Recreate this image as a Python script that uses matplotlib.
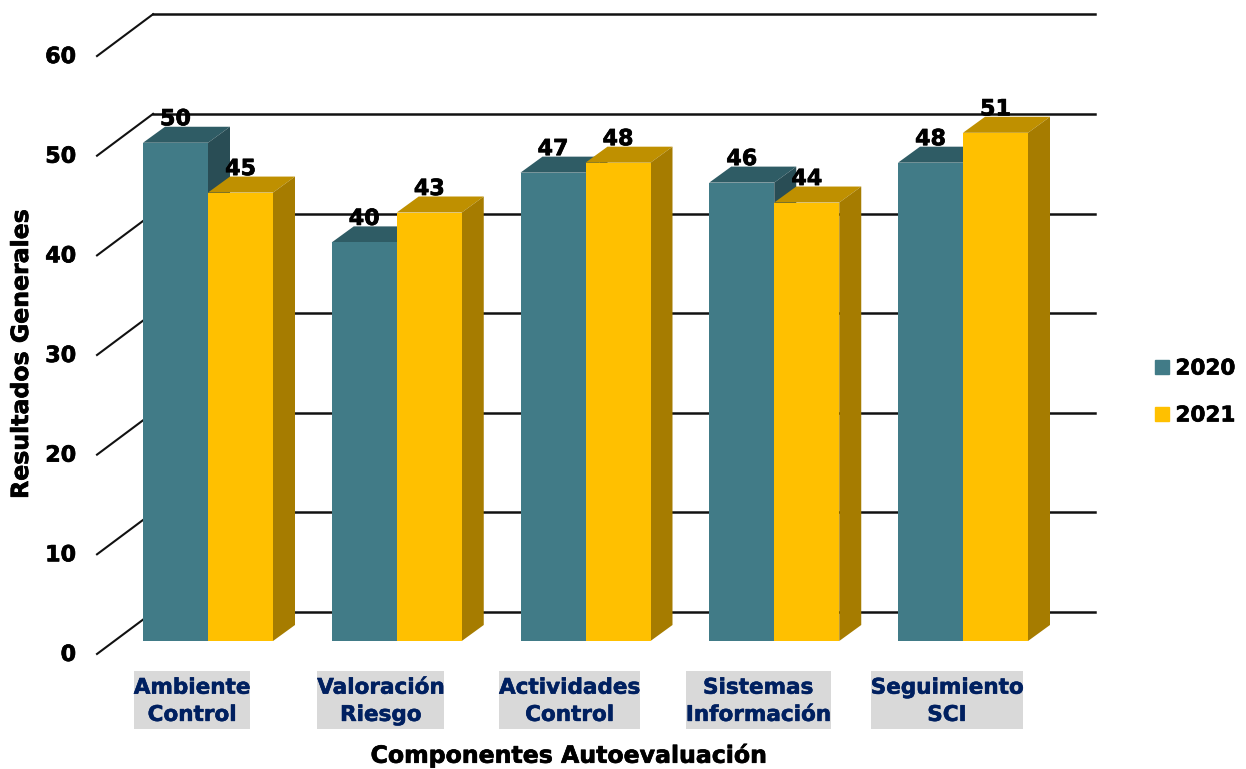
import matplotlib
matplotlib.use('Agg')
import matplotlib.pyplot as plt
import matplotlib.patheffects as pe
from matplotlib.patches import Patch, Rectangle
from matplotlib.transforms import IdentityTransform

categories = ['Ambiente\nControl', 'Valoración\nRiesgo', 'Actividades\nControl',
              'Sistemas\nInformación', 'Seguimiento\nSCI']
series_names = ['2020', '2021']
values_2020 = [50, 40, 47, 46, 48]
values_2021 = [45, 43, 48, 44, 51]
y_ticks = [0, 10, 20, 30, 40, 50, 60]

front_colors = ['#417B87', '#FFC000']
top_colors = ['#2F5C65', '#BF9000']
side_colors = ['#294D55', '#A67C00']

W, H = 1246, 769
PX_X = 188.75   # pixels per category
PX_Y = 9.965    # pixels per value unit
BAR_W = 65 / PX_X
DX = 22 / PX_X  # bar depth
DY = 16 / PX_Y
WALL_X = (-0.291, 4.70)
WALL_DY = 2.9
AXIS_X = -0.588
AXIS_DY = -1.3

plt.rcParams['font.family'] = ['DejaVu Sans']
plt.rcParams['font.weight'] = 'bold'

# the original font is heavier than DejaVu Bold
heavy = [pe.withStroke(linewidth=0.5, foreground='black')]
heavy_navy = [pe.withStroke(linewidth=0.4, foreground='#002060')]

fig = plt.figure(figsize=(W / 100, H / 100), dpi=100)
ax = fig.add_axes([0, 0, 1, 1])
ax.set_xlim(-208 / PX_X, (W - 208) / PX_X)
ax.set_ylim(-(H - 641) / PX_Y, 641 / PX_Y)
ax.axis('off')

# back wall lines and the slanted lines to the front axis
for t in y_ticks:
    ax.plot(WALL_X, [t + WALL_DY] * 2, color='#111111', lw=1.8, zorder=1)
    ax.plot([AXIS_X, WALL_X[0]], [t + AXIS_DY, t + WALL_DY], color='#111111', lw=1.5, zorder=1)
    ax.text(AXIS_X - 0.11, t + AXIS_DY - 0.1, str(t), ha='right', va='center', fontsize=16,
            path_effects=heavy, zorder=5)


def draw_bar(left, val, s):
    right = left + BAR_W
    ax.fill([left, left + DX, right + DX, right], [val, val + DY, val + DY, val],
            color=top_colors[s], lw=0, zorder=2)
    ax.fill([right, right + DX, right + DX, right], [0, DY, val + DY, val],
            color=side_colors[s], lw=0, zorder=2)
    ax.fill([left, right, right, left], [0, 0, val, val],
            color=front_colors[s], lw=0, zorder=2)


for i in range(len(categories)):
    draw_bar(i - BAR_W, values_2020[i], 0)
    draw_bar(i, values_2021[i], 1)

for i in range(len(categories)):
    ax.text(i - BAR_W / 2, values_2020[i] + DY + 0.15, str(values_2020[i]), ha='center',
            va='baseline', fontsize=16, path_effects=heavy, zorder=6)
    ax.text(i + BAR_W / 2, values_2021[i] + DY + 0.15, str(values_2021[i]), ha='center',
            va='baseline', fontsize=16, path_effects=heavy, zorder=6)

renderer = fig.canvas.get_renderer()
for i, name in enumerate(categories):
    lab = ax.text(i - 0.085, -6.05, name, ha='center', va='center', fontsize=15.5,
                  color='#002060', linespacing=1.45, multialignment='center',
                  path_effects=heavy_navy, zorder=5)
    bb = lab.get_window_extent(renderer)
    ax.add_patch(Rectangle((bb.x0, H - 729), bb.width, 58, facecolor='#D9D9D9',
                           edgecolor='none', transform=IdentityTransform(), zorder=4))

fig.text(569 / W, 1 - 755 / H, 'Componentes Autoevaluación', ha='center', va='center',
         fontsize=17, path_effects=heavy)
fig.text(21 / W, 1 - 354 / H, 'Resultados Generales', ha='center', va='center',
         rotation=90, fontsize=17, path_effects=heavy)

handles = [Patch(color=front_colors[0], label=series_names[0]),
           Patch(color=front_colors[1], label=series_names[1])]
leg = ax.legend(handles=handles, loc='center left', bbox_to_anchor=(1155 / W, 1 - 392 / H),
                frameon=False, fontsize=15.5, handlelength=0.65, handleheight=0.65,
                handletextpad=0.3, labelspacing=1.25, borderpad=0, borderaxespad=0)
for txt in leg.get_texts():
    txt.set_path_effects(heavy)

fig.savefig('out.png', dpi=100)
